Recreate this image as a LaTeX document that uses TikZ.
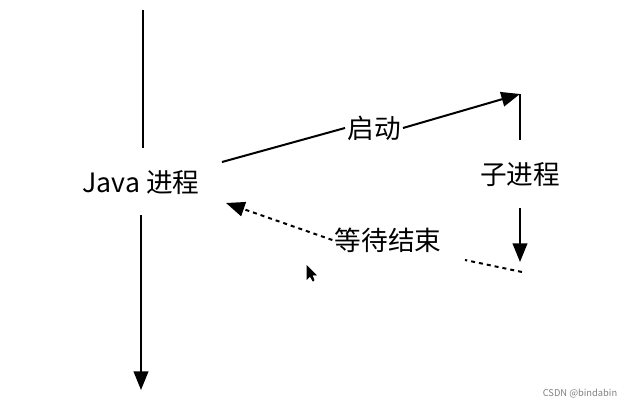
\documentclass[tikz,border=0pt]{standalone}
\usepackage{fontspec}
\setmainfont{Noto Sans CJK SC}
\usetikzlibrary{arrows.meta}
\tikzset{every picture/.style={line width=1.5pt}}
\tikzset{lbl/.style={font=\fontsize{20}{24}\selectfont,inner sep=1pt}}
\tikzset{tip/.style={-{Triangle[length=14pt,width=11pt]}}}

\begin{document}
\begin{tikzpicture}[x=0.75pt,y=0.75pt,yscale=-1,xscale=1]
        \useasboundingbox (0,0) rectangle (640,407);

        % Text Nodes
        \node (java) [lbl] at (141,183) {Java 进程};
        \node (start) [lbl] at (374,128) {启动};
        \node (child) [lbl] at (520,175) {子进程};
        \node (wait) [lbl] at (388,240) {等待结束};
        \node (mark) [font=\fontsize{7}{8}\selectfont,text=gray] at (580,394) {CSDN @bindabin};

        \coordinate (top) at (143,10);
        \coordinate (bot) at (141,390);
        \coordinate (cr) at (520,94);
        \coordinate (dl) at (522,272);

        % main process line
        \draw (top) -- (143,148);
        \draw [tip] (141,215) -- (bot);
        % start
        \draw (222,162) -- (start.west);
        \draw [tip] (start.east) -- (cr);
        \draw (cr) -- (520,140);
        \draw [tip] (520,208) -- (520,262);
        % wait
        \draw [dashed] (dl) -- (465,260);
        \draw [dashed,tip] (wait.west) -- (226,203);

        % cursor
        \draw [line width=0.6pt,fill=black] (307,266) -- (307,279) -- (310,276) -- (313,281) -- (314,280) -- (312,275) -- (316,275) -- cycle;
\end{tikzpicture}
\end{document}
